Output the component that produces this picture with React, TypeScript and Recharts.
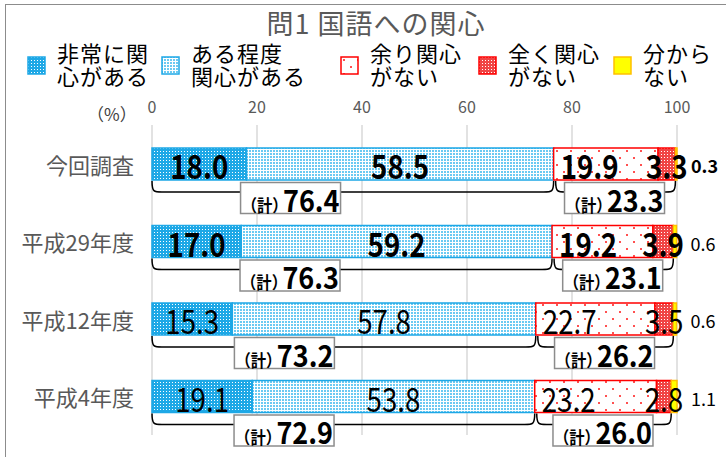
import React from 'react';
import { BarChart, Bar, XAxis, YAxis, CartesianGrid, LabelList, Legend } from 'recharts';

const categories = ['今回調査', '平成29年度', '平成12年度', '平成4年度'];
const veryInterested = [18.0, 17.0, 15.3, 19.1];
const somewhatInterested = [58.5, 59.2, 57.8, 53.8];
const notVery = [19.9, 19.2, 22.7, 23.2];
const notAtAll = [3.3, 3.9, 3.5, 2.8];
const dontKnow = [0.3, 0.6, 0.6, 1.1];
const interestedTotal = [76.4, 76.3, 73.2, 72.9];
const notInterestedTotal = [23.3, 23.1, 26.2, 26.0];
const xTicks = [0, 20, 40, 60, 80, 100];
const legendLines = [
  ['非常に関', '心がある'],
  ['ある程度', '関心がある'],
  ['余り関心', 'がない'],
  ['全く関心', 'がない'],
  ['分から', 'ない'],
];

const data = categories.map((name, i) => ({
  name,
  s1: veryInterested[i],
  s2: somewhatInterested[i],
  s3: notVery[i],
  s4: notAtAll[i],
  s5: dontKnow[i],
}));

const FONT = '"Noto Sans CJK JP", "Noto Sans", sans-serif';

// legend swatch styles, same patterns as the bars
const swatches = [
  { fill: 'url(#pVery)', stroke: '#1ea8e6' },
  { fill: 'url(#pSome)', stroke: '#1ea8e6' },
  { fill: 'url(#pNot)', stroke: '#ff0000' },
  { fill: 'url(#pNone)', stroke: '#ff0000' },
  { fill: '#ffff00', stroke: '#ffc000' },
];
const legendX = [27, 161, 340, 478, 613];

function renderLegend() {
  const lineStyle = {
    position: 'absolute' as const,
    fontSize: 22,
    letterSpacing: 1,
    lineHeight: '22px',
    height: 22,
    color: '#000',
    whiteSpace: 'nowrap' as const,
  };
  return (
    <div style={{ position: 'relative', width: 726, height: 60, fontFamily: FONT }}>
      {legendLines.map((lines, i) => (
        <div key={i}>
          <svg
            width={20}
            height={20}
            style={{ position: 'absolute', left: legendX[i], top: 20 }}
          >
            <rect x={1} y={1} width={17} height={17} fill={swatches[i].fill} stroke={swatches[i].stroke} strokeWidth={1.5} />
          </svg>
          <div style={{ ...lineStyle, left: legendX[i] + 30, top: 5 }}>{lines[0]}</div>
          <div style={{ ...lineStyle, left: legendX[i] + 30, top: 28 }}>{lines[1]}</div>
        </div>
      ))}
    </div>
  );
}

const CategoryTick = ({ y, payload }: any) => (
  <text x={134} y={y} textAnchor="end" dominantBaseline="central" fontSize={22} fill="#595959" fontFamily={FONT}>
    {payload.value}
  </text>
);

function Brace({ x0, x1, y, total, cx }: { x0: number; x1: number; y: number; total: number; cx: number }) {
  const d = 11;
  const r = 10;
  const path = `M${x0},${y} C${x0},${y + d} ${x0 + 2},${y + d} ${x0 + r},${y + d} L${x1 - r},${y + d} C${x1 - 2},${y + d} ${x1},${y + d} ${x1},${y}`;
  const bw = 100;
  const bh = 31;
  return (
    <g>
      <path d={path} fill="none" stroke="#000" strokeWidth={1.5} />
      <rect x={cx - bw / 2} y={y + 1.5} width={bw} height={bh} fill="#fff" stroke="#8c8c8c" strokeWidth={1.5} />
      <g transform={`translate(${cx},${y + bh - 0.5}) scale(0.9,1)`}>
        <text x={0} y={0} textAnchor="middle" fontFamily={FONT} fontWeight={700} fill="#000">
          <tspan fontSize={17}>（計）</tspan>
          <tspan fontSize={30} dx={-5}>{total.toFixed(1)}</tspan>
        </text>
      </g>
    </g>
  );
}

const bigLabel = (x: number, y: number, text: string, anchor: string, bold: boolean) => (
  <g transform={`translate(${x},${y}) scale(0.84,1)`}>
    <text
      x={0}
      y={0}
      textAnchor={anchor as any}
      dominantBaseline="central"
      fontSize={33}
      fontWeight={bold ? 700 : 400}
      fill="#000"
      fontFamily={FONT}
    >
      {text}
    </text>
  </g>
);

const renderS1 = (p: any) =>
  bigLabel(p.x + p.width / 2, p.y + p.height / 2 + 1, Number(p.value).toFixed(1), 'middle', p.index < 2);

const renderS2 = (p: any) => {
  const k = p.width / p.value;
  const x0 = p.x - veryInterested[p.index] * k;
  const x1 = p.x + p.width;
  return (
    <g>
      {bigLabel(p.x + p.width / 2, p.y + p.height / 2 + 1, Number(p.value).toFixed(1), 'middle', p.index < 2)}
      <Brace x0={x0} x1={x1} y={p.y + p.height + 1} total={interestedTotal[p.index]} cx={x0 + (x1 - x0) * 0.345} />
    </g>
  );
};

const renderS3 = (p: any) =>
  bigLabel(p.x + 7, p.y + p.height / 2 + 1, Number(p.value).toFixed(1), 'start', p.index < 2);

// seg 4 label and the "not interested" brace sit on the last series so they draw on top
const renderS5 = (p: any) => {
  const k = p.width / p.value;
  const s4w = notAtAll[p.index] * k;
  const x1 = p.x;
  const x0 = p.x - (notVery[p.index] + notAtAll[p.index]) * k;
  return (
    <g>
      {bigLabel(p.x - s4w / 2, p.y + p.height / 2 + 1, notAtAll[p.index].toFixed(1), 'middle', p.index < 2)}
      <text
        x={p.x + p.width + 14}
        y={p.y + p.height / 2 + 1}
        dominantBaseline="central"
        fontSize={18}
        fontWeight={p.index === 0 ? 700 : 400}
        fill="#000"
        fontFamily={FONT}
      >
        {Number(p.value).toFixed(1)}
      </text>
      <Brace x0={x0 + 2} x1={x1} y={p.y + p.height + 1} total={notInterestedTotal[p.index]} cx={x0 + (x1 - x0) * 0.5} />
    </g>
  );
};

export default function App() {
  return (
    <div
      style={{
        position: 'absolute',
        left: 0,
        top: 0,
        width: 726,
        height: 457,
        background: '#fff',
        overflow: 'hidden',
        fontFamily: FONT,
      }}
    >
      <div
        style={{
          position: 'absolute',
          left: 5,
          top: 4,
          width: 760,
          height: 480,
          border: '1.5px solid #8c8c8c',
        }}
      />
      <div
        style={{
          position: 'absolute',
          left: 13,
          top: 7,
          width: 726,
          textAlign: 'center',
          fontSize: 27,
          letterSpacing: 1,
          color: '#595959',
          lineHeight: '32px',
        }}
      >
        問1 国語への関心
      </div>
      <div style={{ position: 'absolute', left: 87, top: 101, fontSize: 17, color: '#404040' }}>（%）</div>
      <div style={{ position: 'absolute', left: 0, top: 0 }}>
        <BarChart
          width={726}
          height={457}
          data={data}
          layout="vertical"
          margin={{ top: 105, right: 49, bottom: 22, left: 0 }}
          barSize={32}
        >
          <defs>
            <pattern id="pVery" width="3" height="3" patternUnits="userSpaceOnUse">
              <rect width="3" height="3" fill="#1ea8e6" />
              <rect x="1" y="1" width="1" height="1" fill="#ffffff" />
            </pattern>
            <pattern id="pSome" width="3" height="3" patternUnits="userSpaceOnUse">
              <rect width="3" height="3" fill="#ffffff" />
              <rect width="2" height="2" fill="#6ccaf2" />
            </pattern>
            <pattern id="pNot" width="14" height="14" patternUnits="userSpaceOnUse">
              <rect width="14" height="14" fill="#ffffff" />
              <rect x="3" y="3" width="2" height="2" fill="#ff5050" />
              <rect x="10" y="10" width="2" height="2" fill="#ff5050" />
            </pattern>
            <pattern id="pNone" width="3" height="3" patternUnits="userSpaceOnUse">
              <rect width="3" height="3" fill="#f04545" />
              <rect x="1" y="1" width="1" height="1" fill="#ffffff" />
            </pattern>
          </defs>
          <CartesianGrid horizontal={false} stroke="#d9d9d9" strokeWidth={1.5} />
          <XAxis
            type="number"
            orientation="top"
            domain={[0, 100]}
            ticks={xTicks}
            height={20}
            axisLine={false}
            tickLine={false}
            tickSize={0}
            tickMargin={12}
            tick={{ fill: '#595959', fontSize: 16, fontFamily: FONT }}
          />
          <YAxis
            type="category"
            dataKey="name"
            width={152}
            axisLine={false}
            tickLine={false}
            tick={<CategoryTick />}
          />
          <Legend
            layout="horizontal"
            verticalAlign="middle"
            align="center"
            content={renderLegend}
            wrapperStyle={{ top: 36, left: 0, width: 726, height: 60 }}
          />
          <Bar dataKey="s1" stackId="a" fill="url(#pVery)" stroke="#1ea8e6" strokeWidth={1.5} isAnimationActive={false}>
            <LabelList dataKey="s1" content={renderS1} />
          </Bar>
          <Bar dataKey="s2" stackId="a" fill="url(#pSome)" stroke="#1ea8e6" strokeWidth={1.5} isAnimationActive={false}>
            <LabelList dataKey="s2" content={renderS2} />
          </Bar>
          <Bar dataKey="s3" stackId="a" fill="url(#pNot)" stroke="#ff0000" strokeWidth={1.5} isAnimationActive={false}>
            <LabelList dataKey="s3" content={renderS3} />
          </Bar>
          <Bar dataKey="s4" stackId="a" fill="url(#pNone)" stroke="#ff0000" strokeWidth={1.5} isAnimationActive={false} />
          <Bar dataKey="s5" stackId="a" fill="#ffff00" stroke="#ffc000" strokeWidth={1.5} isAnimationActive={false}>
            <LabelList dataKey="s5" content={renderS5} />
          </Bar>
        </BarChart>
      </div>
    </div>
  );
}
